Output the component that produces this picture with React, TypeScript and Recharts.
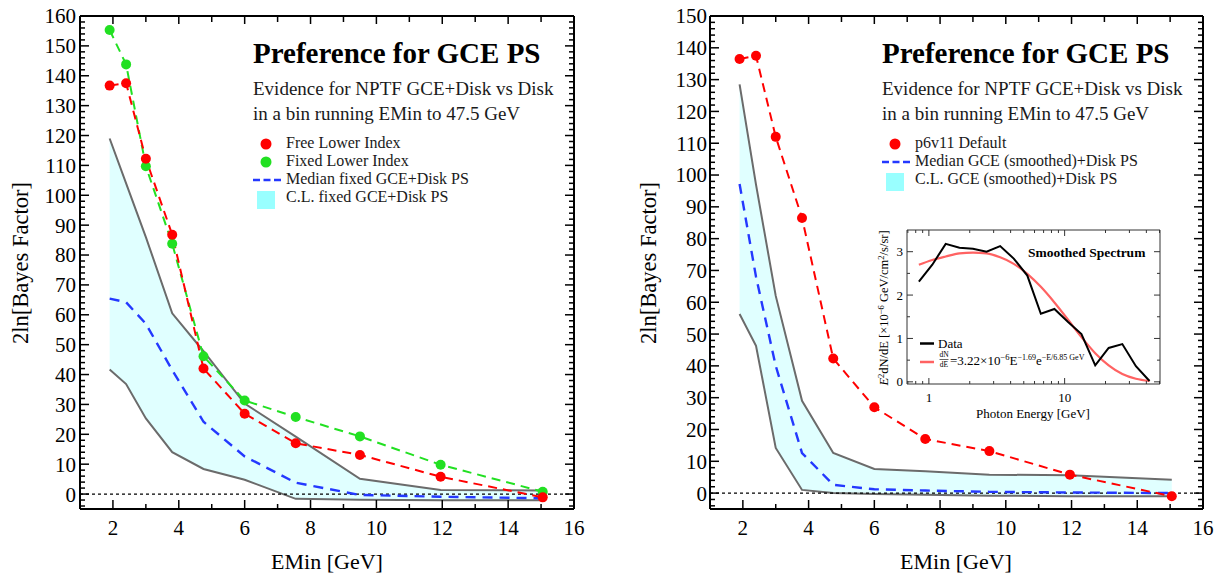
import React from "react";
import { ComposedChart, LineChart, Line, Area, XAxis, YAxis, ReferenceLine } from "recharts";

const FONT = '"Liberation Serif", "Times New Roman", serif';

// lower edge of each energy bin (GeV)
const eMin = [1.9, 2.4, 3.0, 3.8, 4.75, 6.0, 7.55, 9.5, 11.95, 15.05];

// left panel: 2ln[Bayes factor]
const freeLowerIndex = [136.7, 137.5, 112.2, 86.8, 42.0, 26.9, 17.0, 13.1, 5.8, -1.1];
const fixedLowerIndex = [155.3, 143.8, 109.7, 83.8, 46.1, 31.3, 25.8, 19.3, 9.8, 0.8];
const medianFixed = [65.4, 64.2, 57.0, 41.5, 24.2, 12.6, 3.8, -0.3, -0.9, -1.4];
const clFixedLow = [41.7, 36.8, 25.3, 14.0, 8.4, 4.8, -1.6, -1.9, -2.1, -2.1];
const clFixedHigh = [119.0, 104.0, 86.0, 60.5, 47.8, 30.3, 19.2, 5.1, 1.4, 1.2];

// right panel
const p6v11Default = [136.5, 137.5, 112.0, 86.5, 42.3, 27.0, 17.0, 13.2, 5.8, -1.0];
const medianSmoothed = [97.2, 68.0, 40.0, 12.6, 2.6, 1.2, 0.8, 0.4, 0.2, 0.0];
const clSmoothedLow = [56.3, 46.3, 14.2, 1.0, 0.0, -0.3, -0.5, -0.8, -1.0, -1.0];
const clSmoothedHigh = [128.5, 97.0, 62.0, 29.0, 12.6, 7.6, 6.9, 5.8, 5.6, 4.2];

// inset: smoothed spectrum, E^2 dN/dE in 1e-6 GeV/cm^2/s/sr
const photonE = [0.844, 1.06, 1.33, 1.68, 2.11, 2.66, 3.35, 4.22, 5.31, 6.68, 8.41, 10.6, 13.3, 16.8, 21.1, 26.6, 33.5, 42.2];
const spectrumData = [2.31, 2.7, 3.18, 3.09, 3.07, 3.0, 3.13, 2.84, 2.45, 1.57, 1.68, 1.38, 1.1, 0.38, 0.78, 0.87, 0.36, 0.02];
const spectrumFit = [2.7, 2.81, 2.89, 2.96, 2.98, 2.96, 2.87, 2.72, 2.49, 2.19, 1.83, 1.43, 1.03, 0.66, 0.38, 0.18, 0.07, 0.02];

const xLabels = [2, 4, 6, 8, 10, 12, 14, 16];
const xMajor = [2, 4, 6, 8, 10, 12, 14];
const xMinor = [3, 5, 7, 9, 11, 13, 15];
const leftYLabels = [0, 10, 20, 30, 40, 50, 60, 70, 80, 90, 100, 110, 120, 130, 140, 150, 160];
const rightYLabels = [0, 10, 20, 30, 40, 50, 60, 70, 80, 90, 100, 110, 120, 130, 140, 150];
const insetXLabels = [1, 10];
const insetXMinor = [0.7, 0.8, 0.9, 2, 3, 4, 5, 6, 7, 8, 9, 20, 30, 40, 50];
const insetYLabels = [0, 1, 2, 3];
const insetYMinor = [0.5, 1.5, 2.5];

const evens = (a: number, b: number) => {
  const out: number[] = [];
  for (let v = a; v <= b; v += 2) if (v % 10 !== 0) out.push(v);
  return out;
};

const RED = "#ff0000";
const GREEN = "#22e022";
const BLUE = "#2438ff";
const GRAY = "#6b6b6b";
const THIN = 0.01; // tick-only axes take no room

const leftRows = eMin.map((x, i) => ({
  x,
  free: freeLowerIndex[i],
  fixed: fixedLowerIndex[i],
  median: medianFixed[i],
  lo: clFixedLow[i],
  hi: clFixedHigh[i],
  band: [clFixedLow[i], clFixedHigh[i]],
}));

const rightRows = eMin.map((x, i) => ({
  x,
  p6: p6v11Default[i],
  median: medianSmoothed[i],
  lo: clSmoothedLow[i],
  hi: clSmoothedHigh[i],
  band: [clSmoothedLow[i], clSmoothedHigh[i]],
}));

const specRows = photonE.map((e, i) => ({ e, data: spectrumData[i], fit: spectrumFit[i] }));

const noLabel = () => <g />;
const ink = (w: number, c = "#000") => ({ stroke: c, strokeWidth: w });

const serifTick = (size: number) => (p: any) => {
  const dy = p.verticalAnchor === "start" ? "0.71em" : p.verticalAnchor === "end" ? "-0.29em" : "0.355em";
  return (
    <text x={p.x} y={p.y} dy={dy} textAnchor={p.textAnchor} fontSize={size} fontFamily={FONT} fill="#000">
      {p.payload.value}
    </text>
  );
};

// Mathematica-style frame: labels outside, ticks pointing inwards on all four sides
function frameAxes(yDomain: [number, number], yLabels: number[], yMinor: number[], yWidth: number, yMargin: number) {
  const xd: [number, number] = [1, 16];
  return [
    <XAxis key="xb" xAxisId="xb" type="number" dataKey="x" domain={xd} allowDataOverflow ticks={xLabels} interval={0}
      height={67} tickSize={0} tickMargin={11} tickLine={false} axisLine={ink(2)} tick={serifTick(21)} />,
    <XAxis key="xb1" xAxisId="xb1" type="number" dataKey="x" domain={xd} allowDataOverflow ticks={xMajor} interval={0}
      mirror height={THIN} tickSize={9} tickLine={ink(1.5)} axisLine={false} tick={noLabel} />,
    <XAxis key="xb2" xAxisId="xb2" type="number" dataKey="x" domain={xd} allowDataOverflow ticks={xMinor} interval={0}
      mirror height={THIN} tickSize={5} tickLine={ink(1.5)} axisLine={false} tick={noLabel} />,
    <XAxis key="xt1" xAxisId="xt1" orientation="top" type="number" dataKey="x" domain={xd} allowDataOverflow ticks={xMajor} interval={0}
      mirror height={THIN} tickSize={8} tickLine={ink(1.5)} axisLine={ink(2)} tick={noLabel} />,
    <XAxis key="xt2" xAxisId="xt2" orientation="top" type="number" dataKey="x" domain={xd} allowDataOverflow ticks={xMinor} interval={0}
      mirror height={THIN} tickSize={6} tickLine={ink(1.5)} axisLine={false} tick={noLabel} />,
    <YAxis key="yl" yAxisId="yl" type="number" domain={yDomain} allowDataOverflow ticks={yLabels} interval={0}
      width={yWidth} tickSize={0} tickMargin={yMargin} tickLine={false} axisLine={ink(2)} tick={serifTick(21)} />,
    <YAxis key="yl1" yAxisId="yl1" type="number" domain={yDomain} allowDataOverflow ticks={yLabels} interval={0}
      mirror width={THIN} tickSize={9} tickLine={ink(1.5)} axisLine={false} tick={noLabel} />,
    <YAxis key="yl2" yAxisId="yl2" type="number" domain={yDomain} allowDataOverflow ticks={yMinor} interval={0}
      mirror width={THIN} tickSize={5} tickLine={ink(1.5)} axisLine={false} tick={noLabel} />,
    <YAxis key="yr1" yAxisId="yr1" orientation="right" type="number" domain={yDomain} allowDataOverflow ticks={yLabels} interval={0}
      mirror width={THIN} tickSize={9} tickLine={ink(1.5)} axisLine={ink(2)} tick={noLabel} />,
    <YAxis key="yr2" yAxisId="yr2" orientation="right" type="number" domain={yDomain} allowDataOverflow ticks={yMinor} interval={0}
      mirror width={THIN} tickSize={5} tickLine={ink(1.5)} axisLine={false} tick={noLabel} />,
  ];
}

const common = { xAxisId: "xb", yAxisId: "yl", isAnimationActive: false, type: "linear" as const };
const dashed = (c: string, da: string, w = 2) => ({ stroke: c, strokeWidth: w, strokeDasharray: da });

function LeftPanel() {
  return (
    <ComposedChart width={600} height={576} data={leftRows} margin={{ top: 16, right: 26, bottom: 0, left: 0 }}>
      {frameAxes([-5, 160], leftYLabels, evens(-4, 158), 80, 4)}
      <Area {...common} dataKey="band" stroke="none" fill="#00ffff" fillOpacity={0.12} />
      <Line {...common} dataKey="hi" stroke={GRAY} strokeWidth={2} dot={false} />
      <Line {...common} dataKey="lo" stroke={GRAY} strokeWidth={2} dot={false} />
      <ReferenceLine xAxisId="xb" yAxisId="yl" y={0} stroke="#000" strokeWidth={1.2} strokeDasharray="3 3" />
      <Line {...common} dataKey="median" {...dashed(BLUE, "10 7", 2.4)} dot={false} />
      <Line {...common} dataKey="fixed" {...dashed(GREEN, "9 6")} dot={{ r: 5, fill: GREEN, stroke: "none" }} />
      <Line {...common} dataKey="free" {...dashed(RED, "9 6")} dot={{ r: 5, fill: RED, stroke: "none" }} />
    </ComposedChart>
  );
}

function RightPanel() {
  return (
    <ComposedChart width={615} height={576} data={rightRows} margin={{ top: 16, right: 22, bottom: 0, left: 0 }}>
      {frameAxes([-5, 150], rightYLabels, evens(-4, 148), 100, 3)}
      <Area {...common} dataKey="band" stroke="none" fill="#00ffff" fillOpacity={0.12} />
      <Line {...common} dataKey="hi" stroke={GRAY} strokeWidth={2} dot={false} />
      <Line {...common} dataKey="lo" stroke={GRAY} strokeWidth={2} dot={false} />
      <ReferenceLine xAxisId="xb" yAxisId="yl" y={0} stroke="#000" strokeWidth={1.2} strokeDasharray="3 3" />
      <Line {...common} dataKey="median" {...dashed(BLUE, "10 7", 2.4)} dot={false} />
      <Line {...common} dataKey="p6" {...dashed(RED, "9 6")} dot={{ r: 5, fill: RED, stroke: "none" }} />
    </ComposedChart>
  );
}

function Inset() {
  const xd: [number, number] = [0.69, 50.4];
  const yd: [number, number] = [-0.05, 3.5];
  const frame = ink(1, "#333");
  return (
    <LineChart width={310} height={200} data={specRows} margin={{ top: 10, right: 10, bottom: 0, left: 0 }}>
      <XAxis xAxisId="e" type="number" dataKey="e" scale="log" domain={xd} allowDataOverflow ticks={insetXLabels} interval={0}
        height={36} tickSize={0} tickMargin={9} tickLine={false} axisLine={frame} tick={serifTick(13)} />
      <XAxis xAxisId="e1" type="number" dataKey="e" scale="log" domain={xd} allowDataOverflow ticks={insetXLabels} interval={0}
        mirror height={THIN} tickSize={6} tickLine={frame} axisLine={false} tick={noLabel} />
      <XAxis xAxisId="e2" type="number" dataKey="e" scale="log" domain={xd} allowDataOverflow ticks={insetXMinor} interval={0}
        mirror height={THIN} tickSize={3} tickLine={frame} axisLine={false} tick={noLabel} />
      <XAxis xAxisId="et1" orientation="top" type="number" dataKey="e" scale="log" domain={xd} allowDataOverflow ticks={insetXLabels} interval={0}
        mirror height={THIN} tickSize={6} tickLine={frame} axisLine={frame} tick={noLabel} />
      <XAxis xAxisId="et2" orientation="top" type="number" dataKey="e" scale="log" domain={xd} allowDataOverflow ticks={insetXMinor} interval={0}
        mirror height={THIN} tickSize={3} tickLine={frame} axisLine={false} tick={noLabel} />
      <YAxis yAxisId="s" type="number" domain={yd} allowDataOverflow ticks={insetYLabels} interval={0}
        width={47} tickSize={0} tickMargin={4} tickLine={false} axisLine={frame} tick={serifTick(13)} />
      <YAxis yAxisId="s1" type="number" domain={yd} allowDataOverflow ticks={insetYLabels} interval={0}
        mirror width={THIN} tickSize={6} tickLine={frame} axisLine={false} tick={noLabel} />
      <YAxis yAxisId="s2" type="number" domain={yd} allowDataOverflow ticks={insetYMinor} interval={0}
        mirror width={THIN} tickSize={3} tickLine={frame} axisLine={false} tick={noLabel} />
      <YAxis yAxisId="sr1" orientation="right" type="number" domain={yd} allowDataOverflow ticks={insetYLabels} interval={0}
        mirror width={THIN} tickSize={6} tickLine={frame} axisLine={frame} tick={noLabel} />
      <YAxis yAxisId="sr2" orientation="right" type="number" domain={yd} allowDataOverflow ticks={insetYMinor} interval={0}
        mirror width={THIN} tickSize={3} tickLine={frame} axisLine={false} tick={noLabel} />
      <Line xAxisId="e" yAxisId="s" dataKey="fit" type="monotone" stroke="#ff6262" strokeWidth={2.2} dot={false} isAnimationActive={false} />
      <Line xAxisId="e" yAxisId="s" dataKey="data" type="linear" stroke="#000" strokeWidth={2} dot={false} isAnimationActive={false} />
    </LineChart>
  );
}

function PanelText({ x, items }: { x: number; items: { kind: string; color: string; label: string }[] }) {
  return (
    <g fontFamily={FONT}>
      <text x={x} y={63} fontSize={29} fontWeight="bold" fill="#000">Preference for GCE PS</text>
      <text x={x} y={95} fontSize={19} fill="#1a1a1a">Evidence for NPTF GCE+Disk vs Disk</text>
      <text x={x} y={119.5} fontSize={19} fill="#1a1a1a">in a bin running EMin to 47.5 GeV</text>
      {items.map((it, i) => {
        const cy = 144 + i * 18;
        return (
          <g key={i}>
            {it.kind === "dot" && <circle cx={x + 13} cy={cy} r={5.5} fill={it.color} />}
            {it.kind === "dash" && (
              <line x1={x} x2={x + 28} y1={cy} y2={cy} stroke={it.color} strokeWidth={2.5} strokeDasharray="7 3.5" />
            )}
            {it.kind === "box" && <rect x={x + 4} y={cy - 7} width={18} height={18} fill={it.color} />}
            <text x={x + 33} y={cy + 4} fontSize={16} fill="#1a1a1a">{it.label}</text>
          </g>
        );
      })}
    </g>
  );
}

function Overlay() {
  return (
    <svg width={1225} height={576} style={{ position: "absolute", left: 0, top: 0, pointerEvents: "none" }}>
      <g fontFamily={FONT} fill="#000">
        <text x={327} y={569} fontSize={22} textAnchor="middle">EMin [GeV]</text>
        <text x={956} y={569} fontSize={22} textAnchor="middle">EMin [GeV]</text>
        <text transform="translate(27.5,263) rotate(-90)" fontSize={22.5} textAnchor="middle">2ln[Bayes Factor]</text>
        <text transform="translate(656,263) rotate(-90)" fontSize={22.5} textAnchor="middle">2ln[Bayes Factor]</text>
      </g>
      <PanelText
        x={253}
        items={[
          { kind: "dot", color: RED, label: "Free Lower Index" },
          { kind: "dot", color: GREEN, label: "Fixed Lower Index" },
          { kind: "dash", color: BLUE, label: "Median fixed GCE+Disk PS" },
          { kind: "box", color: "#99ffff", label: "C.L. fixed GCE+Disk PS" },
        ]}
      />
      <PanelText
        x={882}
        items={[
          { kind: "dot", color: RED, label: "p6v11 Default" },
          { kind: "dash", color: BLUE, label: "Median GCE (smoothed)+Disk PS" },
          { kind: "box", color: "#99ffff", label: "C.L. GCE (smoothed)+Disk PS" },
        ]}
      />
      <g fontFamily={FONT} fill="#000">
        <text x={1028} y={257} fontSize={13.5} fontWeight="bold">Smoothed Spectrum</text>
        <line x1={920} x2={934} y1={343.5} y2={343.5} stroke="#000" strokeWidth={2.5} />
        <text x={938} y={347.5} fontSize={13}>Data</text>
        <line x1={920} x2={934} y1={362} y2={362} stroke="#ff6262" strokeWidth={2.5} />
        <text x={944} y={357} fontSize={7.5} textAnchor="middle">dN</text>
        <line x1={939.5} x2={948.5} y1={359.5} y2={359.5} stroke="#000" strokeWidth={0.6} />
        <text x={944} y={367} fontSize={7.5} textAnchor="middle">dE</text>
        <text x={950} y={365} fontSize={13}>
          =3.22×10<tspan dy={-5} fontSize={8.5}>−6</tspan>
          <tspan dy={5} fontSize={13}>E</tspan>
          <tspan dy={-5} fontSize={8}>−1.69</tspan>
          <tspan dy={5} fontSize={13}>e</tspan>
          <tspan dy={-5} fontSize={8}>−E/6.85 GeV</tspan>
        </text>
        <text x={1033} y={418} fontSize={13} textAnchor="middle">Photon Energy [GeV]</text>
        <text transform="translate(888,308) rotate(-90)" fontSize={12.5} textAnchor="middle">
          <tspan fontStyle="italic">E</tspan>
          <tspan dy={-4} fontSize={8.5}>2</tspan>
          <tspan dy={4}>dN/dE [×10</tspan>
          <tspan dy={-4} fontSize={8.5}>−6</tspan>
          <tspan dy={4}> GeV/cm</tspan>
          <tspan dy={-4} fontSize={8.5}>2</tspan>
          <tspan dy={4}>/s/sr]</tspan>
        </text>
      </g>
    </svg>
  );
}

export default function App() {
  return (
    <div style={{ position: "absolute", left: 0, top: 0, width: 1225, height: 576, background: "#fff", fontFamily: FONT }}>
      <div style={{ position: "absolute", left: 0, top: 0 }}>
        <LeftPanel />
      </div>
      <div style={{ position: "absolute", left: 610, top: 0 }}>
        <RightPanel />
      </div>
      <div style={{ position: "absolute", left: 860, top: 220 }}>
        <Inset />
      </div>
      <Overlay />
    </div>
  );
}
